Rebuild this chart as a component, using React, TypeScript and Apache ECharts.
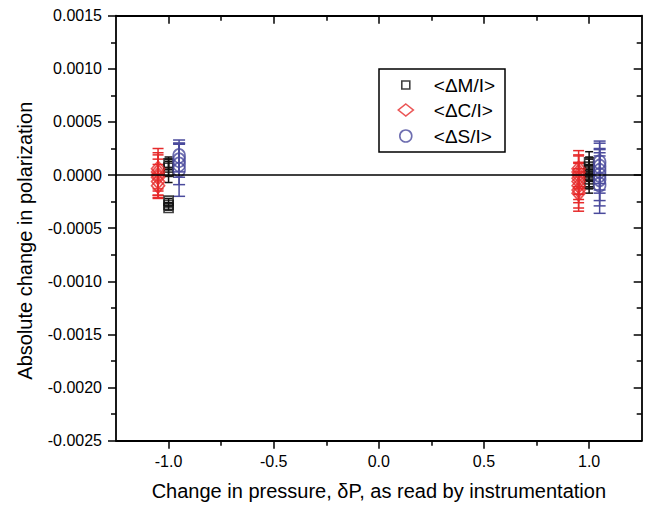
import React, { useEffect, useRef } from 'react';
import * as echarts from 'echarts';

const xTicks = [-1.0, -0.5, 0.0, 0.5, 1.0];
const xMinorTicks = [-0.75, -0.25, 0.25, 0.75];
const legendNames = ['<ΔM/I>', '<ΔC/I>', '<ΔS/I>'];

// <ΔM/I>
const mX = [-1.0, -1.0, -1.0, -1.0, -1.0, -1.0, 1.0, 1.0, 1.0, 1.0, 1.0, 1.0, 1.0];
const mY = [0.00011, 0.00007, 0.00003, -0.00024, -0.00028, -0.00031, 0.00012, 0.00008, 0.00005, 0.00002, -0.00001, -0.00004, -0.00008];
const mErr = [0.00006, 0.00008, 0.0001, 0.00002, 0.00002, 0.00002, 0.0001, 0.00009, 0.0001, 0.00008, 0.0001, 0.00009, 0.00009];
// <ΔC/I>
const cX = [-1.05, -1.05, -1.05, -1.05, -1.05, -1.05, 0.95, 0.95, 0.95, 0.95, 0.95, 0.95, 0.95, 0.95];
const cY = [0.00006, 0.00003, 0.0, -0.00002, -0.00006, -0.0001, 0.00006, 0.00003, 0.0, -0.00003, -0.00006, -0.0001, -0.00014, -0.00017];
const cErr = [0.00019, 0.00018, 0.00019, 0.00017, 0.00016, 0.00011, 0.00017, 0.00016, 0.00018, 0.00015, 0.00017, 0.00016, 0.00017, 0.00017];
// <ΔS/I>
const sX = [-0.95, -0.95, -0.95, -0.95, 1.05, 1.05, 1.05, 1.05, 1.05, 1.05];
const sY = [0.00018, 0.00014, 0.0001, 0.00005, 0.00012, 0.00008, 0.00004, 0.0, -0.00004, -0.00009];
const sErr = [0.00015, 0.00016, 0.00019, 0.00025, 0.0002, 0.00022, 0.00021, 0.00024, 0.00025, 0.00027];

const FONT = '"Liberation Sans", Arial, Helvetica, sans-serif';
const BLACK = '#111111';
const RED = '#e62a2b';
const BLUE = '#4a4a9c';

const pts = (xs: number[], ys: number[]) => xs.map((x, i) => [x, ys[i]]);
const bars = (xs: number[], ys: number[], es: number[]) => xs.map((x, i) => [x, ys[i] - es[i], ys[i] + es[i]]);

function errorSeries(data: number[][], color: string, cap: number) {
  return {
    type: 'custom',
    xAxisIndex: 0,
    yAxisIndex: 0,
    data,
    encode: { x: 0, y: [1, 2] },
    silent: true,
    z: 3,
    renderItem: (params: any, api: any) => {
      const x = api.value(0);
      const top = api.coord([x, api.value(2)]);
      const bot = api.coord([x, api.value(1)]);
      const hw = cap / 2;
      const style = { stroke: color, lineWidth: 1.5 };
      return {
        type: 'group',
        children: [
          { type: 'line', shape: { x1: top[0], y1: top[1], x2: bot[0], y2: bot[1] }, style },
          { type: 'line', shape: { x1: top[0] - hw, y1: top[1], x2: top[0] + hw, y2: top[1] }, style },
          { type: 'line', shape: { x1: bot[0] - hw, y1: bot[1], x2: bot[0] + hw, y2: bot[1] }, style },
        ],
      };
    },
  };
}

function scatterSeries(name: string, data: number[][], color: string, symbol: string, size: any) {
  return {
    type: 'scatter',
    name,
    data,
    symbol,
    symbolSize: size,
    z: 4,
    itemStyle: { color: 'rgba(0,0,0,0)', borderColor: color, borderWidth: 1.7 },
  };
}

// icon centre x 405, text start x 433 (legend text sits itemWidth + 5 after left)
function legendItem(name: string, color: string, icon: string, w: number, h: number, top: number) {
  const left = 405 - w / 2;
  const textPad = 433 - (left + w + 5);
  return {
    show: true,
    data: [{ name, icon }],
    orient: 'vertical',
    left,
    top,
    padding: 0,
    itemWidth: w,
    itemHeight: h,
    selectedMode: false,
    textStyle: { fontFamily: FONT, fontSize: 19, color: '#000', padding: [0, 0, 0, textPad] },
    itemStyle: { color: 'rgba(0,0,0,0)', borderColor: color, borderWidth: 1.6 },
  };
}

export default function App() {
  const ref = useRef<HTMLDivElement>(null);
  useEffect(() => {
    if (!ref.current) return;
    const chart = echarts.init(ref.current, undefined, { renderer: 'svg' });
    const axisLine = { show: true, onZero: false, lineStyle: { color: '#000', width: 1.8 } };
    const noLine = { show: false, onZero: false };
    const tickStyle = { color: '#000', width: 1.5 };
    const option: any = {
      animation: false,
      backgroundColor: '#fff',
      grid: { left: 116, top: 15.7, width: 525.7, height: 425, containLabel: false, outerBoundsMode: 'none' },
      legend: [
        legendItem(legendNames[0], BLACK, 'rect', 8, 8, 75.5),
        legendItem(legendNames[1], RED, 'diamond', 15, 12, 100.5),
        legendItem(legendNames[2], BLUE, 'circle', 12, 12, 126.5),
      ],
      graphic: [
        {
          type: 'rect',
          shape: { x: 379, y: 69, width: 126, height: 83 },
          style: { fill: 'none', stroke: '#000', lineWidth: 1.5 },
          z: 10,
        },
      ],
      xAxis: [
        {
          type: 'value',
          position: 'bottom',
          min: -1.25,
          max: 1.25,
          name: 'Change in pressure, δP, as read by instrumentation',
          nameLocation: 'middle',
          nameGap: 40,
          nameTextStyle: { fontFamily: FONT, fontSize: 20, color: '#000' },
          axisLine,
          splitLine: { show: false },
          axisTick: { show: true, length: 8, lineStyle: tickStyle, customValues: xTicks },
          axisLabel: {
            show: true,
            customValues: xTicks,
            margin: 13,
            fontFamily: FONT,
            fontSize: 16,
            color: '#000',
            formatter: (v: number) => v.toFixed(1),
          },
        },
        {
          type: 'value',
          position: 'bottom',
          min: -1.25,
          max: 1.25,
          axisLine: noLine,
          splitLine: { show: false },
          axisTick: { show: true, length: 5, lineStyle: tickStyle, customValues: xMinorTicks },
          axisLabel: { show: false },
        },
        {
          type: 'value',
          position: 'top',
          min: -1.25,
          max: 1.25,
          axisLine,
          splitLine: { show: false },
          axisTick: { show: true, inside: true, length: 8, lineStyle: tickStyle, customValues: xTicks },
          axisLabel: { show: false },
        },
        {
          type: 'value',
          position: 'top',
          min: -1.25,
          max: 1.25,
          axisLine: noLine,
          splitLine: { show: false },
          axisTick: { show: true, inside: true, length: 5, lineStyle: tickStyle, customValues: xMinorTicks },
          axisLabel: { show: false },
        },
      ],
      yAxis: [
        {
          type: 'value',
          position: 'left',
          min: -0.0025,
          max: 0.0015,
          interval: 0.0005,
          name: 'Absolute change in polarization',
          nameLocation: 'middle',
          nameGap: 81,
          nameRotate: 90,
          nameTextStyle: { fontFamily: FONT, fontSize: 20, color: '#000', padding: [0, 25, 0, 0] },
          axisLine,
          splitLine: { show: false },
          axisTick: { show: true, length: 8, lineStyle: tickStyle },
          minorTick: { show: true, splitNumber: 2, length: 5, lineStyle: tickStyle },
          axisLabel: {
            margin: 14,
            fontFamily: FONT,
            fontSize: 16,
            color: '#000',
            formatter: (v: number) => v.toFixed(4),
          },
        },
        {
          type: 'value',
          position: 'right',
          min: -0.0025,
          max: 0.0015,
          interval: 0.0005,
          axisLine,
          splitLine: { show: false },
          axisTick: { show: true, inside: true, length: 8, lineStyle: tickStyle },
          minorTick: { show: true, splitNumber: 2, length: 5, lineStyle: tickStyle },
          axisLabel: { show: false },
        },
      ],
      series: [
        {
          ...errorSeries(bars(mX, mY, mErr), BLACK, 8),
          markLine: {
            silent: true,
            symbol: ['none', 'none'],
            label: { show: false },
            lineStyle: { color: '#000', width: 1.6, type: 'solid' },
            data: [{ yAxis: 0 }],
          },
        },
        errorSeries(bars(cX, cY, cErr), RED, 11),
        errorSeries(bars(sX, sY, sErr), BLUE, 12),
        scatterSeries(legendNames[0], pts(mX, mY), BLACK, 'rect', 9),
        scatterSeries(legendNames[1], pts(cX, cY), RED, 'diamond', [13, 15]),
        scatterSeries(legendNames[2], pts(sX, sY), BLUE, 'circle', [12, 14]),
      ],
    };
    chart.setOption(option);
    return () => chart.dispose();
  }, []);
  return (
    <div
      ref={ref}
      style={{ position: 'fixed', left: 0, top: 0, width: 647, height: 506, background: '#fff' }}
    />
  );
}
